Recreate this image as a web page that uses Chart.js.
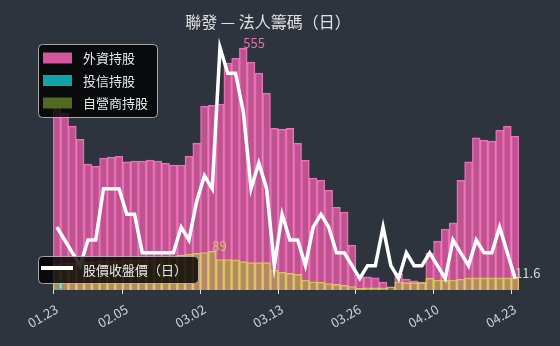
<!DOCTYPE html>
<html>
<head>
<meta charset="utf-8">
<script src="https://cdn.jsdelivr.net/npm/chart.js@4"></script>
<style>
  html, body { margin: 0; padding: 0; background: #2e343e; }
  #wrap { width: 560px; height: 346px; }
</style>
</head>
<body>
<div id="wrap"><canvas id="chipChart" width="560" height="346"></canvas></div>
<script>
const dates = [
  '01.23','01.24','01.25','01.26','01.29','01.30','01.31','02.01','02.02','02.05',
  '02.06','02.07','02.15','02.16','02.19','02.20','02.21','02.22','02.23','03.02',
  '03.03','03.04','03.05','03.06','03.07','03.08','03.09','03.10','03.11','03.13',
  '03.14','03.15','03.16','03.17','03.18','03.19','03.20','03.23','03.24','03.26',
  '03.27','03.30','03.31','04.01','04.02','04.03','04.06','04.07','04.08','04.10',
  '04.13','04.14','04.15','04.16','04.17','04.18','04.20','04.21','04.22','04.23'
];
const tickIdx = [0, 9, 19, 29, 39, 49, 59];

// 外資持股
const foreign = [
  420, 406, 376, 346, 289, 284, 303, 305, 307, 294,
  296, 296, 298, 296, 291, 287, 287, 307, 337, 422,
  424, 427, 521, 532, 555, 523, 498, 452, 371, 369,
  371, 337, 298, 257, 252, 229, 190, 179, 103, 30,
  30, 28, 18, 0, 39, 25, 21, 18, 85, 112,
  140, 154, 252, 294, 349, 344, 342, 367, 376, 353
];
// 投信持股
const trust = [
  0, 0, 0, 0, 0, 0, 0, 0, 0, 0,
  0, 0, 0, 0, 0, 0, 0, 0, 0, 0,
  0, 0, 0, 0, 0, 0, 0, 0, 0, 0,
  0, 0, 0, 0, 0, 0, 0, 0, 0, 0,
  0, 0, 0, 0, 0, 0, 0, 0, 0, 0,
  0, 0, 0, 0, 0, 0, 0, 0, 0, 0
];
// 自營商持股
const dealer = [
  60, 62, 62, 63, 64, 65, 66, 66, 67, 68,
  68, 69, 70, 71, 72, 74, 80, 82, 84, 86,
  89, 70, 70, 69, 65, 63, 63, 63, 46, 41,
  38, 36, 23, 19, 18, 15, 13, 11, 8, 4,
  5, 5, 5, 7, 19, 17, 17, 17, 27, 23,
  23, 23, 25, 28, 28, 28, 28, 28, 28, 28
];
// 股價收盤價
const price = [
  11.80, 11.75, 11.70, 11.65, 11.75, 11.75, 11.95, 11.95, 11.95, 11.85,
  11.85, 11.70, 11.70, 11.70, 11.70, 11.70, 11.80, 11.75, 11.90, 12.00,
  11.95, 12.50, 12.40, 12.40, 12.25, 11.95, 12.05, 11.95, 11.65, 11.85,
  11.75, 11.75, 11.65, 11.80, 11.85, 11.80, 11.70, 11.70, 11.65, 11.60,
  11.65, 11.65, 11.80, 11.65, 11.60, 11.70, 11.65, 11.65, 11.70, 11.65,
  11.60, 11.75, 11.70, 11.65, 11.75, 11.70, 11.70, 11.80, 11.70, 11.60
];

const FONT = '"Noto Sans CJK TC", "Noto Sans", sans-serif';
const BG = '#2e343e';

function maxIndex(arr) {
  let best = 0;
  arr.forEach((v, i) => { if (v > arr[best]) best = i; });
  return best;
}

function boxPath(ctx, x, y, w, h, r) {
  ctx.beginPath();
  ctx.moveTo(x + r, y);
  ctx.lineTo(x + w - r, y);
  ctx.arcTo(x + w, y, x + w, y + r, r);
  ctx.lineTo(x + w, y + h - r);
  ctx.arcTo(x + w, y + h, x + w - r, y + h, r);
  ctx.lineTo(x + r, y + h);
  ctx.arcTo(x, y + h, x, y + h - r, r);
  ctx.lineTo(x, y + r);
  ctx.arcTo(x, y, x + r, y, r);
  ctx.closePath();
}

const overlay = {
  id: 'overlay',
  beforeDraw(chart) {
    const ctx = chart.ctx;
    ctx.save();
    ctx.fillStyle = BG;
    ctx.fillRect(0, 0, chart.width, chart.height);
    ctx.restore();
  },
  afterDatasetsDraw(chart) {
    const ctx = chart.ctx;
    ctx.save();
    ctx.font = '13px ' + FONT;
    ctx.textAlign = 'left';
    ctx.textBaseline = 'alphabetic';
    const marks = [
      { ds: 1, arr: foreign, color: '#e070b0' },
      { ds: 2, arr: trust, color: '#27b5b5' },
      { ds: 3, arr: dealer, color: '#d8c066' }
    ];
    marks.forEach(m => {
      const i = maxIndex(m.arr);
      const el = chart.getDatasetMeta(m.ds).data[i];
      ctx.fillStyle = m.color;
      ctx.fillText(String(m.arr[i]), el.x, el.y);
    });
    const last = price.length - 1;
    const pt = chart.getDatasetMeta(0).data[last];
    ctx.fillStyle = '#d8d8d8';
    ctx.fillText(String(price[last]), pt.x, pt.y);
    ctx.restore();
  },
  afterDraw(chart) {
    const ctx = chart.ctx;
    ctx.save();
    // title
    ctx.font = '16px ' + FONT;
    ctx.fillStyle = '#e2e2e2';
    ctx.textAlign = 'center';
    ctx.textBaseline = 'middle';
    ctx.fillText('聯發 — 法人籌碼（日）', 268, 22);

    // legend of holdings
    boxPath(ctx, 38.5, 44.5, 119, 73, 4);
    ctx.fillStyle = 'rgba(0,0,0,0.8)';
    ctx.fill();
    ctx.strokeStyle = 'rgba(190,190,190,0.85)';
    ctx.lineWidth = 1;
    ctx.stroke();
    const items = [
      { text: '外資持股', color: '#d4559b', y: 58 },
      { text: '投信持股', color: '#12a3a6', y: 80.5 },
      { text: '自營商持股', color: '#4f6b1f', y: 103 }
    ];
    ctx.font = '13px ' + FONT;
    ctx.textAlign = 'left';
    items.forEach(it => {
      ctx.fillStyle = it.color;
      ctx.fillRect(43, it.y - 5.5, 29, 11);
      ctx.fillStyle = '#e8e8e8';
      ctx.fillText(it.text, 83, it.y + 0.5);
    });

    // legend of price line
    boxPath(ctx, 38.5, 256.5, 160, 27, 4);
    ctx.fillStyle = 'rgba(0,0,0,0.8)';
    ctx.fill();
    ctx.stroke();
    ctx.strokeStyle = '#ffffff';
    ctx.lineWidth = 4;
    ctx.beginPath();
    ctx.moveTo(41, 268);
    ctx.lineTo(73, 268);
    ctx.stroke();
    ctx.fillStyle = '#e8e8e8';
    ctx.fillText('股價收盤價（日）', 83, 270);
    ctx.restore();
  }
};

const ctx = document.getElementById('chipChart').getContext('2d');

const chipChart = new Chart(ctx, {
  data: {
    labels: dates,
    datasets: [
      {
        type: 'line',
        label: '股價收盤價（日）',
        data: price,
        yAxisID: 'y2',
        borderColor: '#ffffff',
        borderWidth: 3.5,
        pointRadius: 0,
        tension: 0,
        order: 0
      },
      {
        type: 'bar',
        label: '外資持股',
        data: foreign,
        yAxisID: 'y',
        backgroundColor: 'rgba(225,92,165,0.8)',
        borderColor: 'rgba(255,125,200,0.9)',
        borderWidth: 1,
        barPercentage: 1,
        categoryPercentage: 1,
        order: 3
      },
      {
        type: 'bar',
        label: '投信持股',
        data: trust,
        yAxisID: 'y',
        backgroundColor: 'rgba(20,170,170,0.7)',
        borderColor: 'rgba(40,200,200,0.9)',
        borderWidth: 1,
        barPercentage: 1,
        categoryPercentage: 1,
        order: 2
      },
      {
        type: 'bar',
        label: '自營商持股',
        data: dealer,
        yAxisID: 'y',
        backgroundColor: 'rgba(170,190,60,0.5)',
        borderColor: 'rgba(230,210,90,0.85)',
        borderWidth: 1,
        barPercentage: 1,
        categoryPercentage: 1,
        order: 1
      }
    ]
  },
  options: {
    responsive: false,
    animation: false,
    layout: { padding: { left: 53, right: 41, top: 36, bottom: 0 } },
    plugins: {
      legend: { display: false },
      title: { display: false },
      tooltip: { enabled: false }
    },
    scales: {
      x: {
        stacked: true,
        border: { display: false },
        grid: {
          drawOnChartArea: false,
          drawTicks: true,
          tickLength: 4,
          tickColor: c => tickIdx.includes(c.index) ? '#e0e0e0' : 'rgba(0,0,0,0)'
        },
        ticks: {
          autoSkip: false,
          maxRotation: 30,
          minRotation: 30,
          padding: 7,
          color: '#d0d0d0',
          font: { family: FONT, size: 13 },
          callback: (v, i) => tickIdx.includes(i) ? dates[i] : ''
        },
        afterFit: scale => { scale.height = 56; }
      },
      y: {
        display: false,
        stacked: false,
        min: 0,
        max: 583
      },
      y2: {
        display: false,
        position: 'right',
        min: 11.555,
        max: 12.545
      }
    }
  },
  plugins: [overlay]
});
</script>
</body>
</html>
